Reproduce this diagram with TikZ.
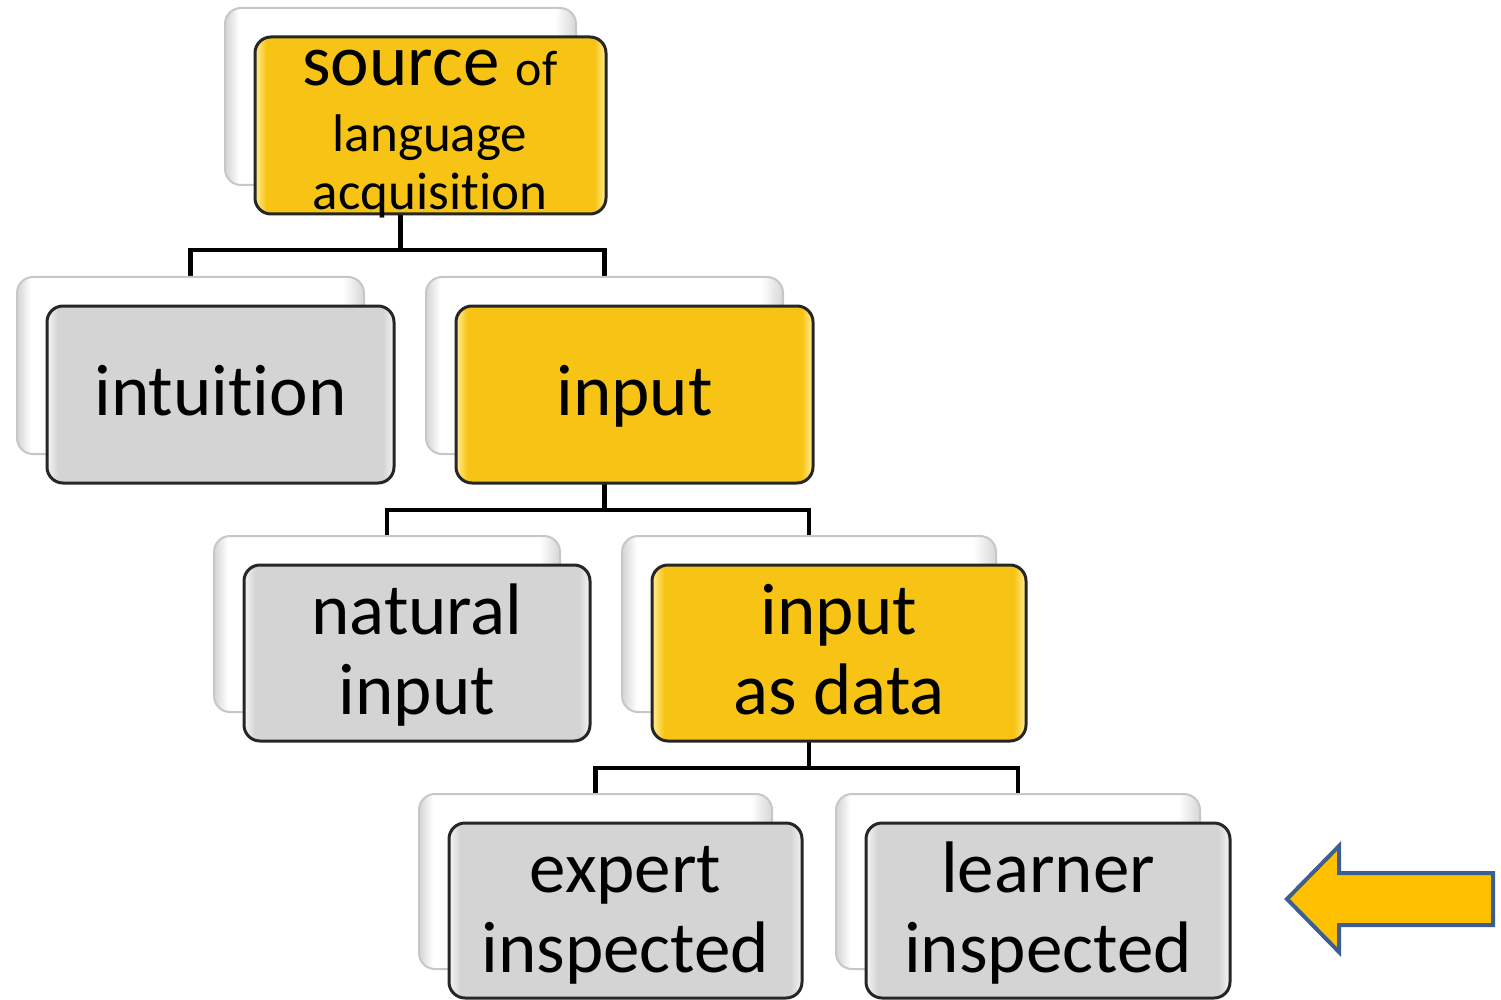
\documentclass[tikz,border=0pt]{standalone}
\usepackage{fontspec}
\setmainfont{Carlito}[Ligatures={NoCommon,NoContextual}]
\usetikzlibrary{calc}
\definecolor{yc}{HTML}{F7C416}
\definecolor{yl}{HTML}{FFE680}
\definecolor{gc}{HTML}{D4D4D4}
\definecolor{gl}{HTML}{EFEFEF}
\definecolor{wl}{HTML}{DADADA}
\definecolor{arrowfill}{HTML}{FFC000}
\definecolor{arrowline}{HTML}{3C5F8F}
\pgfdeclarehorizontalshading{ygloss}{100bp}{color(0bp)=(yl); color(25.3bp)=(yl); color(26.6bp)=(yc); color(73.4bp)=(yc); color(74.7bp)=(yl); color(100bp)=(yl)}
\pgfdeclarehorizontalshading{ggloss}{100bp}{color(0bp)=(gl); color(25.3bp)=(gl); color(26.6bp)=(gc); color(73.4bp)=(gc); color(74.7bp)=(gl); color(100bp)=(gl)}
\pgfdeclarehorizontalshading{wgloss}{100bp}{color(0bp)=(wl); color(25.3bp)=(wl); color(27bp)=(white); color(72bp)=(white); color(74.7bp)=(wl); color(100bp)=(wl)}
\pgfdeclarelayer{bg}
\pgfsetlayers{bg,main}
\tikzset{
  front/.style={draw=black!85, line width=3pt, rounded corners=16pt, inner sep=0pt, outer sep=0pt},
  yel/.style={front, shading=ygloss},
  gry/.style={front, shading=ggloss},
  backbox/.style={draw=black!22, line width=2pt, rounded corners=16pt, shading=wgloss, inner sep=0pt, outer sep=0pt},
  conn/.style={line width=4.5pt, draw=black},
  txt/.style={anchor=base, inner sep=0pt, font=\fontsize{73}{80}\selectfont},
  txtm/.style={anchor=base, inner sep=0pt, font=\fontsize{53}{60}\selectfont},
  arr/.style={line width=4pt, draw=arrowline, fill=arrowfill, line join=miter},
}
\newcommand\pairbox[6]{%
  \node[backbox, minimum width={#4-#2}, minimum height={#5-#3}] (#1b) at ({(#2+#4)/2-30},{(#3+#5)/2-29}) {};
  \node[#6, minimum width={#4-#2}, minimum height={#5-#3}] (#1) at ({(#2+#4)/2},{(#3+#5)/2}) {};
}
\begin{document}
\begin{tikzpicture}[x=1pt,y=-1pt]
\useasboundingbox (0,0) rectangle (1501,1000);
\pairbox{src}{255}{37}{606}{214}{yel}
\pairbox{int}{47}{306}{394}{483}{gry}
\pairbox{inp}{456}{306}{813}{483}{yel}
\pairbox{nat}{244}{565}{590}{741}{gry}
\pairbox{dat}{652}{565}{1026}{741}{yel}
\pairbox{exp}{449}{823}{802}{998}{gry}
\pairbox{lrn}{866}{823}{1230}{998}{gry}

\node[txt] (t1) at (430,86) {source {\fontsize{50}{50}\selectfont of}};
\node[txtm] (t2) at (430,152) {language};
\node[txtm] (t3) at (430,210) {acquisition};
\node[txt] (t4) at (220.5,415) {intuition};
\node[txt] (t5) at (634.5,415) {input};
\node[txt] (t6) at (417,634) {natural};
\node[txt] (t7) at (417,714) {input};
\node[txt] (t8) at (839,634) {input};
\node[txt] (t9) at (839,714) {as data};
\node[txt] (t10) at (625.5,892) {expert};
\node[txt] (t11) at (625.5,972) {inspected};
\node[txt] (t12) at (1048,892) {learner};
\node[txt] (t13) at (1048,972) {inspected};

\begin{pgfonlayer}{bg}
\coordinate (j1) at (srcb.south |- 0,250);
\coordinate (j2) at (inpb.south |- 0,510);
\coordinate (j3) at (datb.south |- 0,768);
\draw[conn] (srcb.south) -- (j1);
\draw[conn] (intb.north) |- (j1) -| (inpb.north);
\draw[conn] (inpb.south) -- (j2);
\draw[conn] (natb.north) |- (j2) -| (datb.north);
\draw[conn] (datb.south) -- (j3);
\draw[conn] (expb.north) |- (j3) -| (lrnb.north);
\end{pgfonlayer}

\draw[arr] (1287,899) -- (1339,846) -- (1339,873) -- (1493,873) -- (1493,925) -- (1339,925) -- (1339,952) -- cycle;
\end{tikzpicture}
\end{document}
